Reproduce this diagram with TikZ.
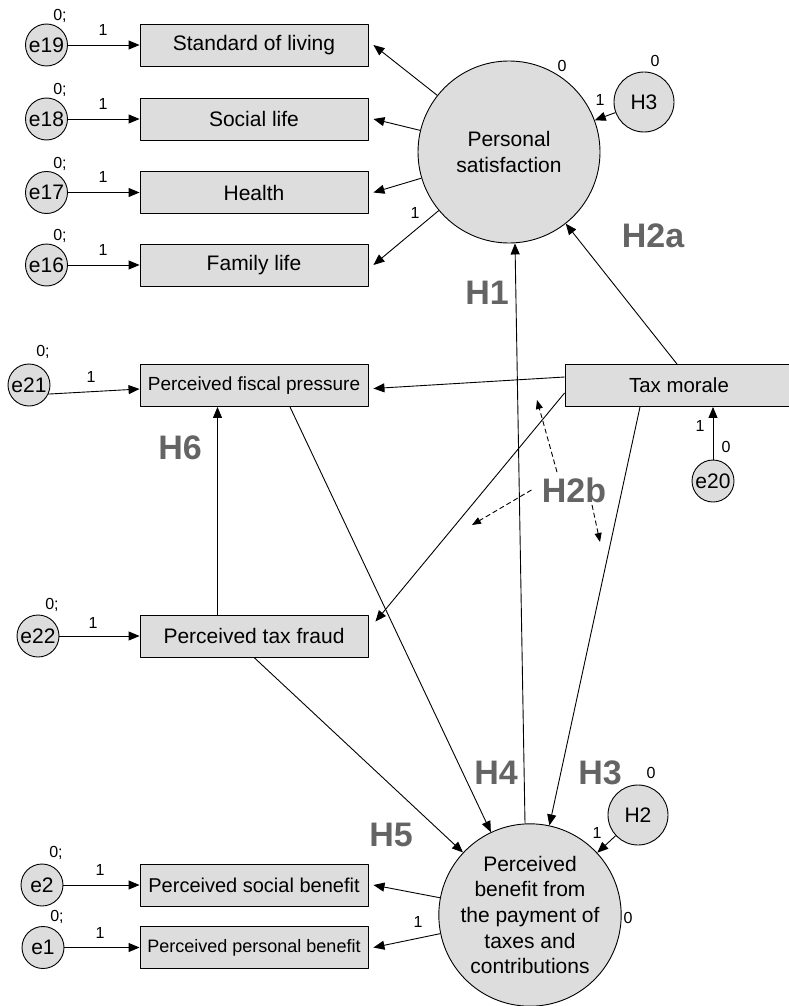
\documentclass[tikz,border=0pt]{standalone}
\usepackage{fontspec}
\setmainfont{Liberation Sans}
\usetikzlibrary{arrows.meta}
\definecolor{fillgray}{RGB}{221,221,221}
\definecolor{hypgray}{RGB}{100,100,100}
\tikzset{
  obsbox/.style={draw, fill=fillgray, minimum width=228pt, minimum height=42pt, inner sep=0pt, font=\fontsize{21}{25}\selectfont},
  latent/.style={draw, circle, fill=fillgray, inner sep=0pt, font=\fontsize{21}{25.7}\selectfont},
  errc/.style={latent, minimum size=42pt},
  num/.style={inner sep=0pt, font=\fontsize{16}{16}\selectfont},
  hyp/.style={inner sep=0pt, text=hypgray, font=\fontsize{34}{34}\selectfont\bfseries}
}
\begin{document}
\begin{tikzpicture}[x=1pt, y=-1pt, line width=0.9pt, line join=round, >={Triangle[length=11pt,width=9pt]}]
  \useasboundingbox (0,0) rectangle (788,1006);
  % latent variables
  \node[latent, minimum size=182pt, align=center] (ps) at (509,152) {Personal\\satisfaction};
  \node[latent, minimum size=180pt, align=center] (pbf) at (530,915) {Perceived\\benefit from\\the payment of\\taxes and\\contributions};
  \node[latent, minimum size=60pt] (h3) at (644,102) {H3};
  \node[latent, minimum size=60pt] (h2) at (638,815) {H2};
  % indicators of personal satisfaction
  \foreach \n/\y/\t in {19/45/Standard of living, 18/119/Social life, 17/192.5/Health, 16/265/Family life}{
    \node[errc] (e\n) at (46.5,\y) {e\n};
    \node[obsbox] (o\n) at (254,\y) {\t};
    \node[num] (z\n) at (60,\y-29) {0;};
    \node[num] (w\n) at (103,\y-15.5) {1};
    \draw[->] (e\n) -- (o\n);
    \draw[->] (ps) -- ([xshift=5pt]o\n.east);
  }
  % observed variables
  \node[obsbox, font=\fontsize{19}{23}\selectfont] (fp) at (254,385.5) {Perceived fiscal pressure};
  \node[obsbox] (tf) at (254,636) {Perceived tax fraud};
  \node[obsbox, font=\fontsize{20}{24}\selectfont] (sb) at (254,885) {Perceived social benefit};
  \node[obsbox, font=\fontsize{18}{22}\selectfont] (pp) at (254,947.5) {Perceived personal benefit};
  \node[obsbox, font=\fontsize{20.4}{24}\selectfont] (tm) at (679,385.5) {Tax morale};
  % errors
  \node[errc] (e21) at (29,385) {e21};
  \node[errc] (e22) at (38,636) {e22};
  \node[errc] (e2) at (42,885) {e2};
  \node[errc] (e1) at (43,947.5) {e1};
  \node[errc] (e20) at (713,481) {e20};
  % small numbers
  \node[num] (z21) at (43,352) {0;};
  \node[num] (w21) at (91,377) {1};
  \node[num] (z22) at (52,605) {0;};
  \node[num] (w22) at (93,623) {1};
  \node[num] (z2) at (56,853) {0;};
  \node[num] (w2) at (100,870) {1};
  \node[num] (z1) at (57,917) {0;};
  \node[num] (w1) at (100,933) {1};
  \node[num] (z20) at (726,447) {0};
  \node[num] (w20) at (700,426) {1};
  \node[num] (zps) at (562,66) {0};
  \node[num] (wps) at (415,213) {1};
  \node[num] (zh3) at (655,61) {0};
  \node[num] (wh3) at (600,100) {1};
  \node[num] (zh2) at (651,773) {0};
  \node[num] (wh2) at (597,833) {1};
  \node[num] (zpb) at (628,918) {0};
  \node[num] (wpb) at (418,922) {1};
  % hypotheses
  \node[hyp] (hh1) at (487,292.5) {H1};
  \node[hyp] (hh2a) at (653,236) {H2a};
  \node[hyp] (hh6) at (180,448) {H6};
  \node[hyp] (hh2b) at (574,490) {H2b};
  \node[hyp] (hh4) at (496,773) {H4};
  \node[hyp] (hh3) at (600,773) {H3};
  \node[hyp] (hh5) at (391,835) {H5};
  % arrows
  \draw[->] (e21.-25) -- ([yshift=-3.5pt]fp.west);
  \draw[->] (e22) -- (tf);
  \draw[->] (e2) -- (sb);
  \draw[->] (e1) -- (pp);
  \draw[->] (e20) -- (e20 |- tm.south);
  \draw[->] (h3) -- (ps);
  \draw[->] (h2) -- (pbf);
  \draw[->] (pbf) -- ([xshift=5pt]sb.east);
  \draw[->] (pbf) -- ([xshift=5pt]pp.east);
  \draw[->] ([xshift=-36.5pt]tf.north) -- ([xshift=-36.5pt]fp.south);
  \draw[->] ([xshift=36pt]fp.south) -- (pbf);
  \draw[->] (tf.south) -- (pbf);
  \draw[->] ([xshift=-5pt]pbf.north) -- ([xshift=6pt]ps.south);
  \draw[->] ([xshift=-2pt]tm.north) -- (ps);
  \draw[->] ([yshift=8.5pt]tm.west) -- ([xshift=5pt,yshift=-3pt]fp.east);
  \draw[->] ([yshift=-7.5pt]tm.west) -- ([shift={(7pt,-7pt)}]tf.north east);
  \draw[->] ([xshift=-39pt]tm.south) -- (pbf);
  % H2b dashed
  \coordinate (d1) at (537,400);
  \coordinate (d2) at (472,525);
  \coordinate (d3) at (600,542);
  \draw[dash pattern=on 5pt off 3pt, -{Triangle[length=9pt,width=7pt]}] ([shift={(-17pt,5pt)}]hh2b.north) -- (d1);
  \draw[dash pattern=on 5pt off 3pt, -{Triangle[length=9pt,width=7pt]}] ([xshift=-10pt]hh2b.west) -- (d2);
  \draw[dash pattern=on 5pt off 3pt, -{Triangle[length=9pt,width=7pt]}] ([shift={(18pt,-2pt)}]hh2b.south) -- (d3);
\end{tikzpicture}
\end{document}
